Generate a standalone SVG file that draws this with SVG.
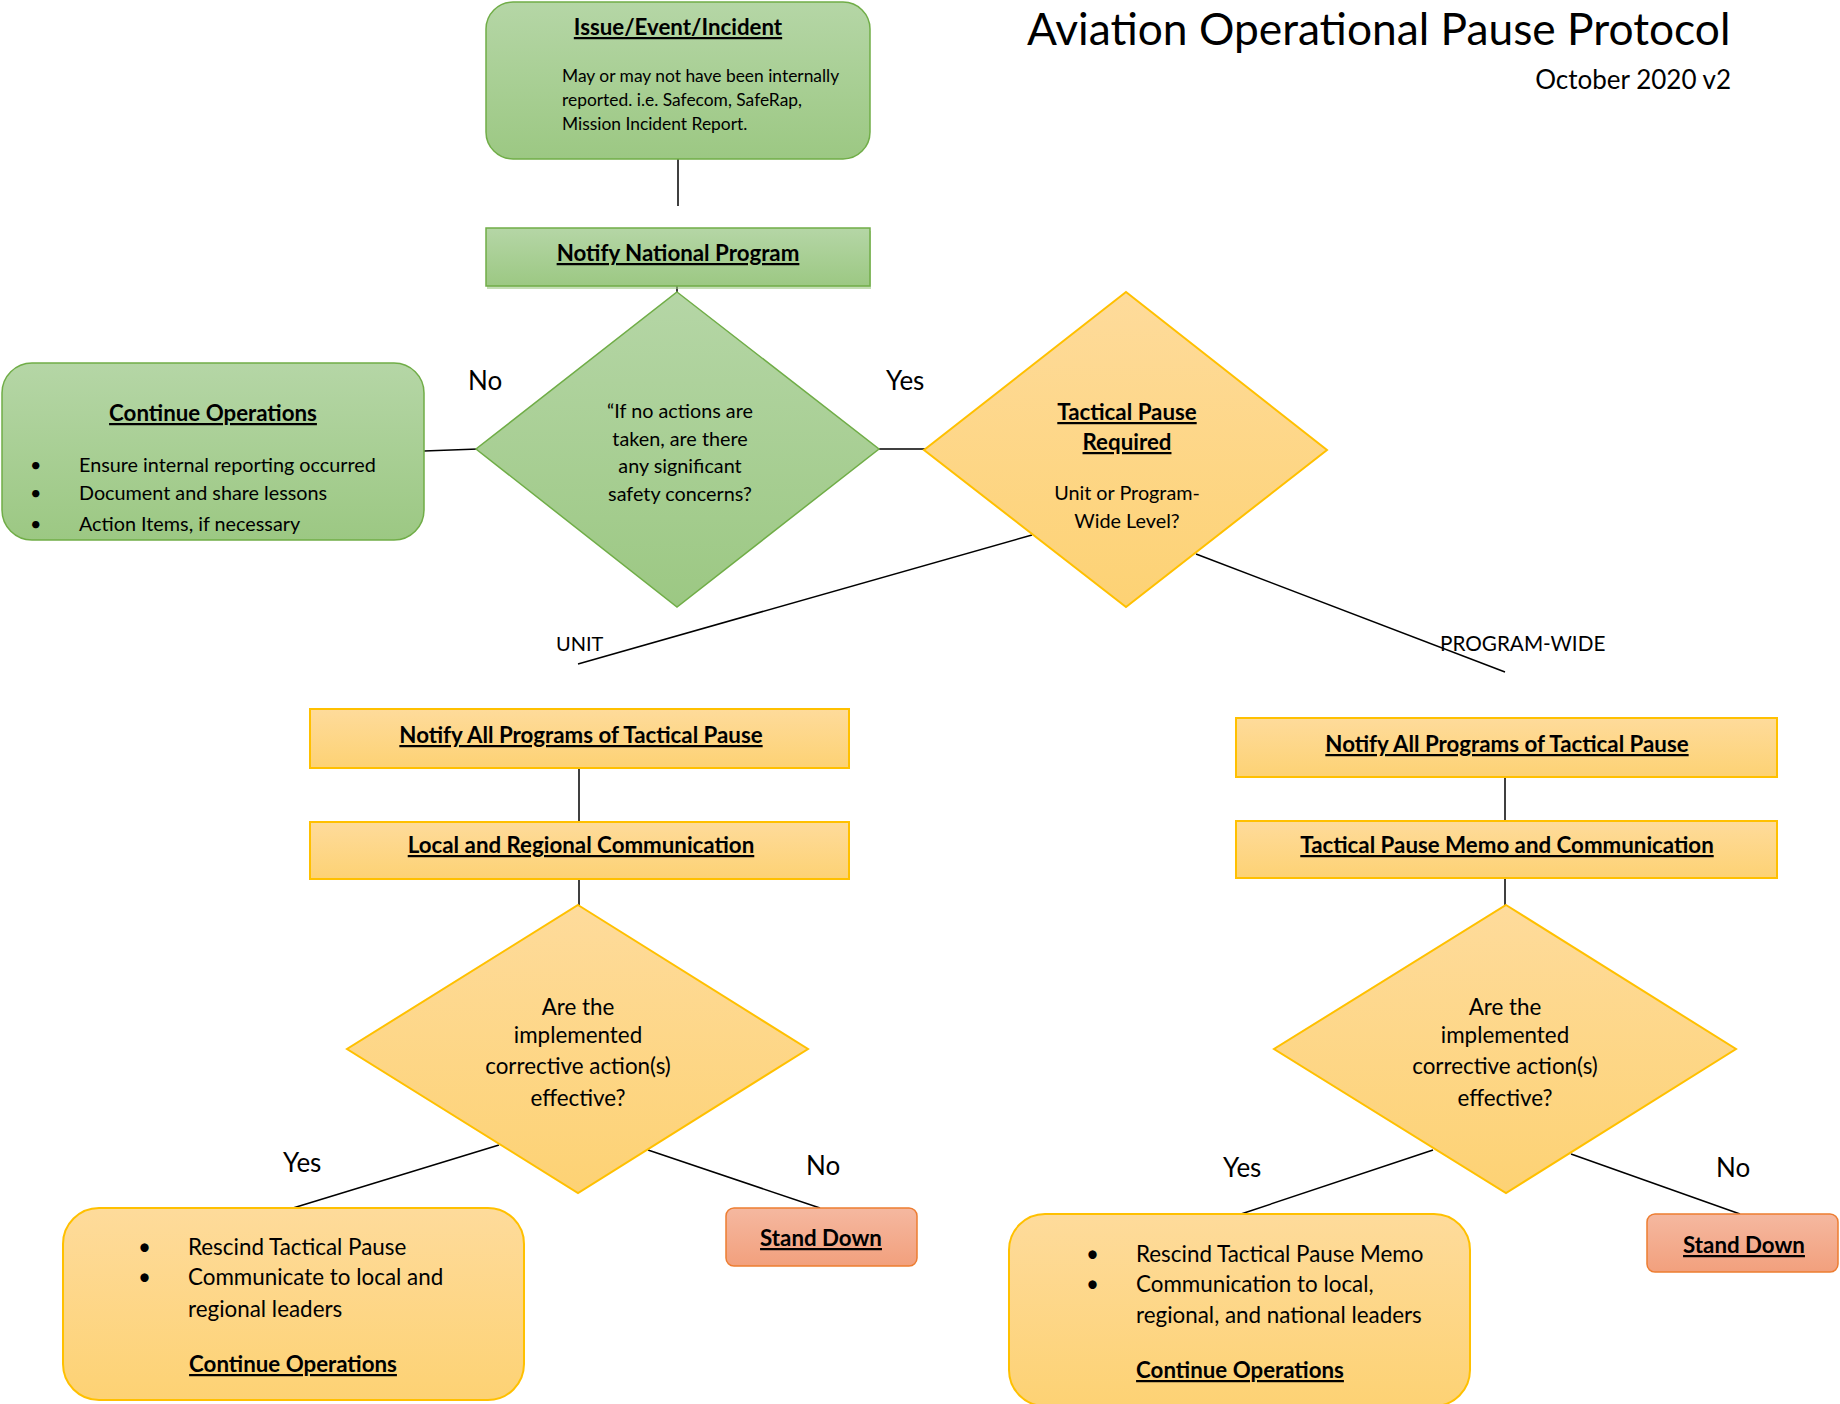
<svg xmlns="http://www.w3.org/2000/svg" width="1840" height="1404" viewBox="0 0 1840 1404">
<defs>
<linearGradient id="gGreen" x1="0" y1="0" x2="0" y2="1"><stop offset="0" stop-color="#b5d6a6"/><stop offset="1" stop-color="#9cc883"/></linearGradient>
<linearGradient id="gOrange" x1="0" y1="0" x2="0" y2="1"><stop offset="0" stop-color="#fedb9b"/><stop offset="1" stop-color="#fdd274"/></linearGradient>
<linearGradient id="gRed" x1="0" y1="0" x2="0" y2="1"><stop offset="0" stop-color="#f5b8a0"/><stop offset="1" stop-color="#f2a07d"/></linearGradient>
</defs>
<style>
text{font-family:Lato,"Open Sans","Liberation Sans",sans-serif;fill:#000}
.g{fill:url(#gGreen);stroke:#70ad47;stroke-width:1.5}
.o{fill:url(#gOrange);stroke:#ffc000;stroke-width:2}
.r{fill:url(#gRed);stroke:#ed7d31;stroke-width:1.5}
.h{font-weight:bold;text-decoration:underline;font-size:22.3px;text-anchor:middle}
.c{text-anchor:middle}
.lbl{font-size:26px}
.s{font-size:19.8px}
.m{font-size:22.4px}
.conn line{stroke:#000;stroke-width:1.5}
</style>
<g class="conn">
<line x1="678" y1="159" x2="678" y2="206"/>
<line x1="677" y1="286" x2="677" y2="294"/>
<line x1="424" y1="451" x2="478" y2="449"/>
<line x1="877" y1="449" x2="927" y2="449"/>
<line x1="1032" y1="535" x2="578" y2="664"/>
<line x1="1196" y1="554" x2="1505" y2="672"/>
<line x1="579" y1="768" x2="579" y2="822"/>
<line x1="579" y1="879" x2="579" y2="907"/>
<line x1="499" y1="1145" x2="293" y2="1208"/>
<line x1="648" y1="1150" x2="820" y2="1208"/>
<line x1="1505" y1="777" x2="1505" y2="821"/>
<line x1="1505" y1="878" x2="1505" y2="907"/>
<line x1="1433" y1="1150" x2="1241" y2="1214"/>
<line x1="1571" y1="1154" x2="1740" y2="1214"/>
</g>
<g id="title">
<text x="1027" y="45" font-size="44.3">Aviation Operational Pause Protocol</text>
<text x="1731" y="89" font-size="26" text-anchor="end">October 2020 v2</text>
</g>
<g id="issue">
<rect class="g" x="486" y="2" width="384" height="157" rx="27"/>
<text class="h" x="678" y="35">Issue/Event/Incident</text>
<text x="562" y="82" font-size="17.4">May or may not have been internally</text>
<text x="562" y="106" font-size="17.4">reported. i.e. Safecom, SafeRap,</text>
<text x="562" y="130" font-size="17.4">Mission Incident Report.</text>
</g>
<g id="notify-national">
<rect x="487" y="231" width="384" height="58" fill="#9cc883" opacity="0.6"/>
<rect class="g" x="486" y="228" width="384" height="58"/>
<text class="h" x="678" y="261">Notify National Program</text>
</g>
<g id="safety-decision">
<polygon class="g" points="677,292 879,449 677,607 476,449"/>
<text class="c s" x="680" y="418">“If no actions are</text>
<text class="c s" x="680" y="446">taken, are there</text>
<text class="c s" x="680" y="473">any significant</text>
<text class="c s" x="680" y="501">safety concerns?</text>
</g>
<g id="labels-top">
<text class="lbl" x="468" y="390">No</text>
<text class="lbl" x="886" y="390">Yes</text>
<text x="556" y="651" font-size="20">UNIT</text>
<text x="1440" y="651" font-size="20.7">PROGRAM-WIDE</text>
</g>
<g id="continue-ops">
<rect class="g" x="2" y="363" width="422" height="177" rx="30"/>
<text class="h" x="213" y="421">Continue Operations</text>
<text class="s" x="30" y="472">•</text>
<text class="s" x="30" y="500">•</text>
<text class="s" x="30" y="531">•</text>
<text class="s" x="79" y="472">Ensure internal reporting occurred</text>
<text class="s" x="79" y="500">Document and share lessons</text>
<text class="s" x="79" y="531">Action Items, if necessary</text>
</g>
<g id="tactical-decision">
<polygon class="o" points="1126,292 1327,450 1126,607 924,450"/>
<text class="h" x="1127" y="420">Tactical Pause</text>
<text class="h" x="1127" y="450">Required</text>
<text class="c s" x="1127" y="500">Unit or Program-</text>
<text class="c s" x="1127" y="528">Wide Level?</text>
</g>
<g id="unit-notify">
<rect class="o" x="310" y="709" width="539" height="59"/>
<text class="h" x="581" y="743">Notify All Programs of Tactical Pause</text>
</g>
<g id="unit-comm">
<rect class="o" x="310" y="822" width="539" height="57"/>
<text class="h" x="581" y="853">Local and Regional Communication</text>
</g>
<g id="unit-decision">
<polygon class="o" points="578,905 808,1049 578,1193 347,1049"/>
<text class="c m" x="578" y="1015">Are the</text>
<text class="c m" x="578" y="1043">implemented</text>
<text class="c m" x="578" y="1074">corrective action(s)</text>
<text class="c m" x="578" y="1106">effective?</text>
</g>
<g id="labels-unit">
<text class="lbl" x="283" y="1172">Yes</text>
<text class="lbl" x="806" y="1175">No</text>
</g>
<g id="unit-yes">
<rect class="o" x="63" y="1208" width="461" height="192" rx="36"/>
<text class="m" x="138" y="1255">•</text>
<text class="m" x="138" y="1285">•</text>
<text class="m" x="188" y="1255">Rescind Tactical Pause</text>
<text class="m" x="188" y="1285">Communicate to local and</text>
<text class="m" x="188" y="1317">regional leaders</text>
<text class="h" x="293" y="1372">Continue Operations</text>
</g>
<g id="unit-no">
<rect class="r" x="726" y="1208" width="191" height="58" rx="8"/>
<text class="h" x="821" y="1246">Stand Down</text>
</g>
<g id="pw-notify">
<rect class="o" x="1236" y="718" width="541" height="59"/>
<text class="h" x="1507" y="752">Notify All Programs of Tactical Pause</text>
</g>
<g id="pw-memo">
<rect class="o" x="1236" y="821" width="541" height="57"/>
<text class="h" x="1507" y="853">Tactical Pause Memo and Communication</text>
</g>
<g id="pw-decision">
<polygon class="o" points="1506,905 1736,1049 1506,1193 1274,1049"/>
<text class="c m" x="1505" y="1015">Are the</text>
<text class="c m" x="1505" y="1043">implemented</text>
<text class="c m" x="1505" y="1074">corrective action(s)</text>
<text class="c m" x="1505" y="1106">effective?</text>
</g>
<g id="labels-pw">
<text class="lbl" x="1223" y="1177">Yes</text>
<text class="lbl" x="1716" y="1177">No</text>
</g>
<g id="pw-yes">
<rect class="o" x="1009" y="1214" width="461" height="192" rx="36"/>
<text class="m" x="1086" y="1262">•</text>
<text class="m" x="1086" y="1292">•</text>
<text class="m" x="1136" y="1262">Rescind Tactical Pause Memo</text>
<text class="m" x="1136" y="1292">Communication to local,</text>
<text class="m" x="1136" y="1323">regional, and national leaders</text>
<text class="h" x="1240" y="1378">Continue Operations</text>
</g>
<g id="pw-no">
<rect class="r" x="1647" y="1214" width="191" height="58" rx="8"/>
<text class="h" x="1744" y="1253">Stand Down</text>
</g>
</svg>
